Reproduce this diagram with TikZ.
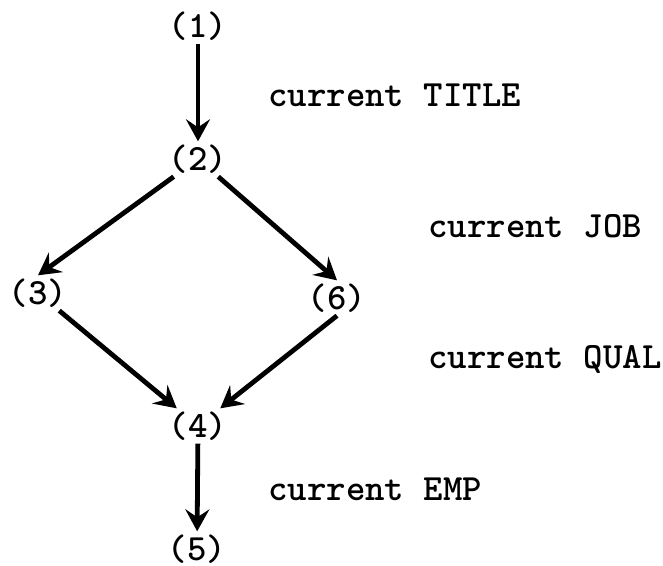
\documentclass[tikz,border=0pt]{standalone}
\usetikzlibrary{arrows.meta}
\tikzset{
  >={Stealth[length=11pt,width=12pt,inset=4pt]},
  stn/.style={font=\fontsize{18.5}{20}\selectfont\ttfamily\bfseries,inner sep=1.5pt},
  rel/.style={stn,anchor=base west,inner sep=0pt},
  flow/.style={->,line width=2.4pt}
}
\begin{document}
\begin{tikzpicture}[x=0.5pt,y=-0.5pt]
    \useasboundingbox (0,0) rectangle (663,566);
    \node[stn] (s1) at (198,26) {(1)};
    \node[stn] (s2) at (198,159) {(2)};
    \node[stn] (s3) at (38,293) {(3)};
    \node[stn] (s6) at (337,298) {(6)};
    \node[stn] (s4) at (198,426) {(4)};
    \node[stn] (s5) at (197,549) {(5)};
    \draw[flow] (s1)--(s2);
    \draw[flow] (s2)--(s3.north);
    \draw[flow] (s2)--(s6.north);
    \draw[flow] (s3)--(s4);
    \draw[flow] (s6.south)--(s4);
    \draw[flow] (s4)--(s5);
    \node[rel] (t1) at (268,107) {current TITLE};
    \node[rel] (t2) at (428,238) {current JOB};
    \node[rel] (t3) at (428,368) {current QUAL};
    \node[rel] (t4) at (268,500) {current EMP};
  \end{tikzpicture}
\end{document}
